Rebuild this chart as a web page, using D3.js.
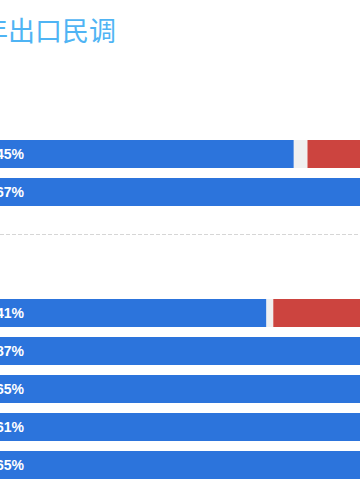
<!DOCTYPE html>
<html>
<head>
<meta charset="utf-8">
<script src="https://cdn.jsdelivr.net/npm/d3@7"></script>
<style>
  body { margin: 0; background: #fff; overflow: hidden; }
  svg { display: block; font-family: "Noto Sans CJK SC", "Liberation Sans", sans-serif; }
</style>
</head>
<body>
<svg id="chart" width="360" height="504"></svg>
<script>
// values (percent), stacked: yes / unsure / no
const group1_yes = [45, 67]
const group1_unsure = [2, 3]
const group1_no = [53, 30]

const group2_yes = [41, 87, 65, 61, 65]
const group2_unsure = [1, 2, 3, 3, 2]
const group2_no = [58, 11, 32, 36, 33]

const title_text = "2020年出口民调"
const colors = ["#2c74dc", "#f0f0f0", "#cc443f"]

const svg = d3.select("#chart")

// the chart is wider than the window, it starts a bit left of it
const x = d3.scaleLinear().domain([0, 100]).range([-14, 670])

svg.append("text")
  .attr("x", 116)
  .attr("y", 41)
  .attr("text-anchor", "end")
  .attr("font-size", 27)
  .attr("fill", "#4fb4f4")
  .text(title_text)

function draw_group(yes, unsure, no, top) {
  const idx = d3.range(yes.length)
  // step 38, bar 28
  const y = d3.scaleBand()
    .domain(idx)
    .range([top, top + 38 * yes.length - 10])
    .paddingInner(10 / 38)
    .paddingOuter(0)

  const rows = idx.map(i => [yes[i], unsure[i], no[i]])
  const g = svg.append("g")

  rows.forEach((r, i) => {
    let start = 0
    r.forEach((v, k) => {
      g.append("rect")
        .attr("x", x(start))
        .attr("y", y(i))
        .attr("width", x(start + v) - x(start))
        .attr("height", y.bandwidth())
        .attr("fill", colors[k])
      start += v
    })
    g.append("text")
      .attr("x", x(0) + 10)
      .attr("y", y(i) + y.bandwidth() / 2)
      .attr("dy", "0.36em")
      .attr("font-family", "Liberation Sans, Arial, sans-serif")
      .attr("font-weight", "bold")
      .attr("font-size", 14)
      .attr("fill", "#fff")
      .text(r[0] + "%")
  })
}

draw_group(group1_yes, group1_unsure, group1_no, 140)

svg.append("line")
  .attr("x1", 0)
  .attr("x2", 360)
  .attr("y1", 234.5)
  .attr("y2", 234.5)
  .attr("stroke", "#d6d6d6")
  .attr("stroke-dasharray", "4,2")

draw_group(group2_yes, group2_unsure, group2_no, 299)
</script>
</body>
</html>
